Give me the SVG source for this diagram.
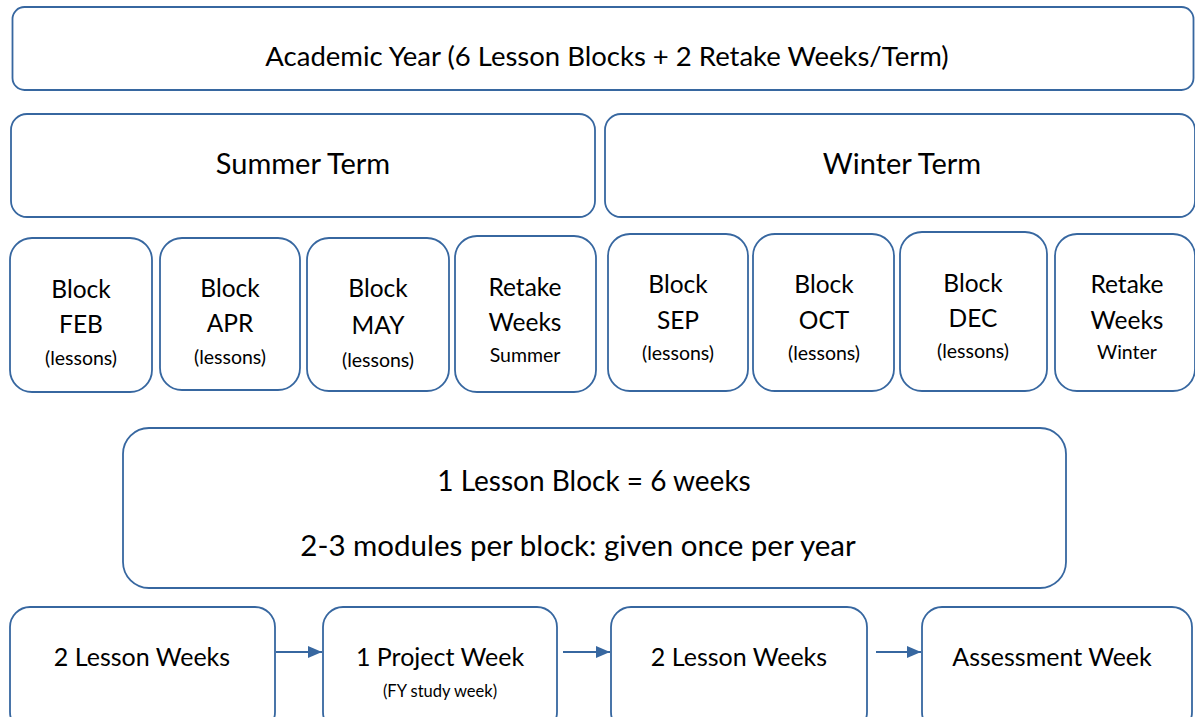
<svg xmlns="http://www.w3.org/2000/svg" width="1195" height="717" viewBox="0 0 1195 717">
<style>
.box{fill:#fff;stroke:#3767a0;stroke-width:1.8}
text{font-family:Lato,"Open Sans","Liberation Sans",sans-serif;fill:#000;text-anchor:middle}
.h1{font-size:27.5px}
.h2{font-size:29px}
.b{font-size:24.5px}
.s{font-size:19.5px}
.s2{font-size:16.5px}
.m{font-size:28px}
.m2{font-size:29.5px}
.w{font-size:25px}
.conn{stroke:#3767a0;stroke-width:1.8;fill:none}
</style>
<defs>
<marker id="ah" viewBox="0 0 14 12" refX="14" refY="6" markerWidth="14" markerHeight="12" markerUnits="userSpaceOnUse" orient="auto">
<path d="M0,0 L14,6 L0,12 z" fill="#3767a0"/>
</marker>
</defs>
<rect width="1195" height="717" fill="#fff"/>
<g id="year"><rect class="box" x="12.5" y="7" width="1181" height="83" rx="12"/><text class="h1" x="607" y="66">Academic Year (6 Lesson Blocks + 2 Retake Weeks/Term)</text></g>
<g id="summer"><rect class="box" x="11" y="114" width="584" height="103" rx="16"/><text class="h2" x="303" y="174">Summer Term</text></g>
<g id="winter"><rect class="box" x="605" y="114" width="590" height="103" rx="16"/><text class="h2" x="902" y="174">Winter Term</text></g>
<g id="feb"><rect class="box" x="10" y="238" width="142" height="154" rx="22"/><text class="b" x="81" y="298">Block</text><text class="b" x="81" y="333">FEB</text><text class="s" x="81" y="365">(lessons)</text></g>
<g id="apr"><rect class="box" x="160" y="238" width="140" height="152" rx="22"/><text class="b" x="230" y="297">Block</text><text class="b" x="230" y="332">APR</text><text class="s" x="230" y="364">(lessons)</text></g>
<g id="may"><rect class="box" x="307" y="238" width="142" height="153" rx="22"/><text class="b" x="378" y="297">Block</text><text class="b" x="378" y="334">MAY</text><text class="s" x="378" y="367">(lessons)</text></g>
<g id="retake-summer"><rect class="box" x="455" y="236" width="141" height="156" rx="22"/><text class="b" x="525" y="296">Retake</text><text class="b" x="525" y="331">Weeks</text><text class="s" x="525" y="362">Summer</text></g>
<g id="sep"><rect class="box" x="608" y="234" width="140" height="157" rx="22"/><text class="b" x="678" y="293">Block</text><text class="b" x="678" y="329">SEP</text><text class="s" x="678" y="360">(lessons)</text></g>
<g id="oct"><rect class="box" x="753" y="234" width="141" height="157" rx="22"/><text class="b" x="824" y="293">Block</text><text class="b" x="824" y="329">OCT</text><text class="s" x="824" y="360">(lessons)</text></g>
<g id="dec"><rect class="box" x="900" y="232" width="147" height="159" rx="22"/><text class="b" x="973" y="292">Block</text><text class="b" x="973" y="327">DEC</text><text class="s" x="973" y="358">(lessons)</text></g>
<g id="retake-winter"><rect class="box" x="1055" y="234" width="140" height="157" rx="22"/><text class="b" x="1127" y="293">Retake</text><text class="b" x="1127" y="329">Weeks</text><text class="s" x="1127" y="359">Winter</text></g>
<g id="info"><rect class="box" x="123" y="428" width="943" height="160" rx="26"/><text class="m" x="594" y="491">1 Lesson Block = 6 weeks</text><text class="m2" x="578" y="556">2-3 modules per block: given once per year</text></g>
<g id="lesson1"><rect class="box" x="10" y="607" width="265" height="125" rx="20"/><text class="w" x="142" y="666">2 Lesson Weeks</text></g>
<g id="project"><rect class="box" x="323" y="607" width="234" height="125" rx="20"/><text class="w" x="440" y="666">1 Project Week</text><text class="s2" x="440" y="697">(FY study week)</text></g>
<g id="lesson2"><rect class="box" x="611" y="607" width="256" height="125" rx="20"/><text class="w" x="739" y="666">2 Lesson Weeks</text></g>
<g id="assess"><rect class="box" x="922" y="607" width="270" height="125" rx="20"/><text class="w" x="1052" y="666">Assessment Week</text></g>
<g id="connectors">
<line class="conn" x1="276" y1="652" x2="322" y2="652" marker-end="url(#ah)"/>
<line class="conn" x1="563" y1="652" x2="610" y2="652" marker-end="url(#ah)"/>
<line class="conn" x1="876" y1="652" x2="921" y2="652" marker-end="url(#ah)"/>
</g>
</svg>
